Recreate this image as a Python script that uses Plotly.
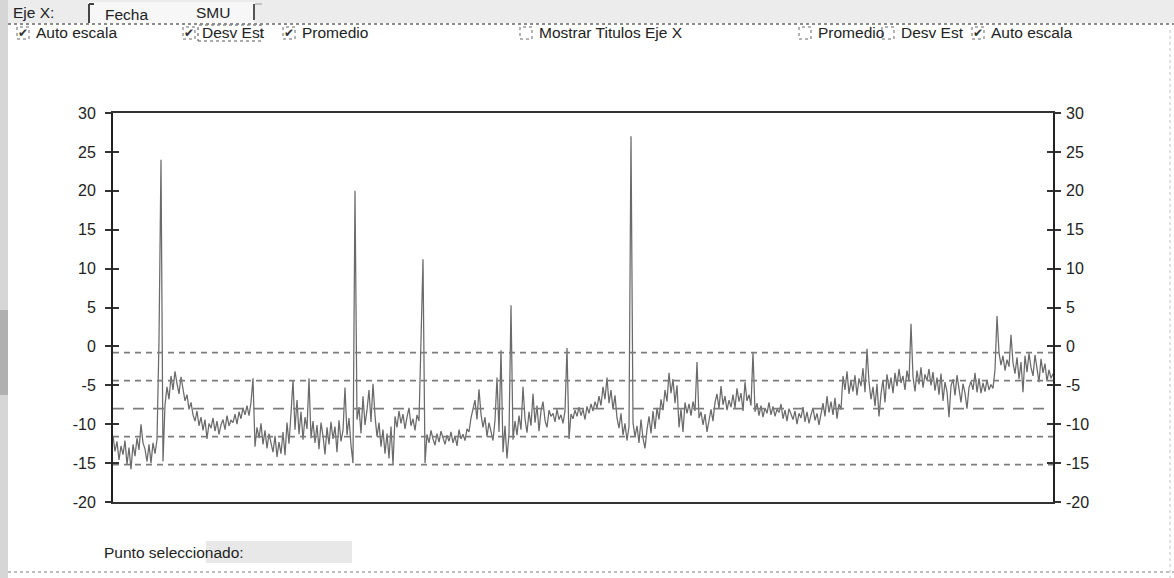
import plotly.graph_objects as go

# SMU readings, one sample per step along the x axis
smu = [
    -11.5, -13.5, -12.2, -14.6, -12.8, -13.9, -12.1, -15.2, -13.0, -15.8,
    -12.6, -14.1, -11.8, -13.3, -10.0, -12.4, -13.2, -14.8, -12.6, -15.0,
    -12.4, -13.8, -12.0, 0.8, 24.0, -14.8, -7.5, -5.2, -6.8, -3.8,
    -5.6, -3.2, -4.8, -6.1, -3.9, -5.4, -7.0, -6.2, -8.1, -7.2,
    -8.8, -9.6, -8.3, -10.2, -9.1, -10.8, -9.4, -11.9, -9.9, -10.5,
    -9.2, -10.9, -9.6, -11.3, -10.1, -9.4, -10.7, -8.9, -10.2, -9.5,
    -9.8, -8.7, -10.0, -8.4, -9.3, -7.9, -8.8, -7.6, -8.9, -7.2,
    -4.1, -12.9, -10.4, -11.8, -9.9, -12.6, -10.8, -13.1, -11.2, -12.4,
    -13.6, -11.5, -14.2, -12.3, -13.8, -11.0, -14.0, -9.8, -12.5, -8.6,
    -4.4, -10.7, -6.9, -11.3, -8.4, -12.0, -9.1, -10.6, -4.1, -11.8,
    -9.6, -12.4, -10.1, -13.2, -9.8, -11.5, -13.9, -10.4, -12.6, -9.7,
    -11.9, -10.3, -13.6, -9.5, -12.2, -10.8, -5.3, -11.4, -9.2, -12.7,
    -15.0, 20.0, -9.4, -7.8, -11.2, -6.4, -10.1, -8.2, -5.6, -9.7,
    -4.8, -8.9, -11.6, -9.8, -12.9, -10.7, -13.8, -11.2, -14.4, -10.3,
    -15.2, -9.0, -10.4, -8.3, -9.9, -8.7, -10.6, -9.1, -7.9, -10.2,
    -9.3, -10.8, -8.8, -9.6, 2.2, 11.2, -15.0, -11.3, -12.4, -10.8,
    -11.9, -12.7, -11.2, -12.3, -10.9, -11.8, -12.6, -11.4, -12.2, -11.0,
    -12.4, -11.5, -12.8, -10.7, -11.9, -11.3, -12.1, -10.6, -11.0, -9.2,
    -8.1, -6.9, -9.4, -5.5, -8.7, -10.4, -9.1, -11.6, -9.8, -10.9,
    -12.1, -9.5, -4.0, -11.0, -0.5, -13.6, -10.2, -14.4, -11.2, 5.3,
    -12.0, -9.6, -11.4, -8.9, -10.7, -5.2, -9.3, -11.1, -8.4, -10.2,
    -6.1, -9.8, -7.6, -10.9, -8.3, -7.1, -9.5, -10.4, -8.2, -9.0,
    -8.6, -9.7, -8.1, -9.4, -8.8, -9.9, -8.3, -0.2, -11.9, -8.7,
    -9.3, -8.2, -9.0, -7.8, -8.9, -8.1, -9.4, -7.7, -8.6, -7.4,
    -8.3, -7.1, -7.9, -6.4, -7.6, -5.2, -6.8, -4.0, -7.3, -5.6,
    -8.1, -6.3, -9.2, -10.5, -8.6, -11.4, -9.9, -12.1, -10.3, 27.0,
    -9.8, -11.6, -10.2, -12.4, -9.4, -11.8, -13.1, -10.7, -9.0, -11.2,
    -8.3, -10.6, -7.9, -9.4, -6.8, -8.2, -5.6, -7.1, -3.4, -6.0,
    -4.2, -7.3, -5.0, -10.4, -8.1, -11.0, -7.2, -8.6, -7.4, -8.9,
    -7.1, -8.3, -2.0, -9.2, -8.4, -10.1, -8.7, -11.0, -9.3, -8.1,
    -9.6, -7.2, -6.1, -8.0, -5.1, -7.5, -6.4, -8.2, -6.9, -7.8,
    -6.2, -7.9, -5.4, -7.1, -6.0, -8.3, -4.6, -7.0, -6.2, -7.6,
    -0.8, -8.4, -7.3, -8.9, -7.6, -9.1, -7.9, -8.6, -7.2, -8.8,
    -7.7, -9.0, -8.1, -8.5, -7.4, -9.3, -8.2, -9.6, -8.0, -8.7,
    -9.4, -8.3, -10.0, -8.6, -9.2, -7.8, -9.7, -8.4, -9.9, -8.8,
    -7.9, -9.5, -8.6, -10.1, -8.4, -7.3, -9.0, -6.4, -8.5, -7.1,
    -8.8, -6.6, -9.3, -7.4, -8.1, -3.8, -5.6, -3.2, -6.1, -4.4,
    -5.8, -3.7, -6.3, -4.1, -5.1, -2.8, -5.9, -0.3, -4.6, -6.8,
    -5.2, -7.7, -4.8, -9.0, -6.1, -4.3, -7.2, -3.6, -5.5, -4.0,
    -6.0, -3.4, -5.1, -2.9, -4.7, -3.8, -5.6, -3.1, -4.5, 2.9,
    -3.9, -5.8, -3.1, -4.9, -2.7, -5.3, -3.6, -4.4, -2.9, -5.0,
    -3.3, -5.7, -4.0, -6.2, -3.5, -7.0, -4.6, -5.8, -9.1, -5.1,
    -4.2, -6.3, -3.7, -5.5, -7.2, -4.8, -6.0, -8.0, -5.3, -4.5,
    -5.6, -3.4, -5.9, -4.1, -6.0, -4.7, -5.8, -4.3, -5.6, -4.9,
    -5.4, -3.0, 3.9, -0.8, -2.4, -1.2, -3.1, -1.7, -2.6, 1.5,
    -2.1, -3.5, -1.4, -4.2, -2.0, -5.9, -1.2, -3.3, -0.9, -2.7,
    -3.8, -1.1, -2.9, -4.6, -1.6, -3.4, -2.2, -4.5, -3.0, -4.1,
    -3.5,
]

# Statistics shown as reference lines (Promedio and Desv Est)
promedio = -8.0
desv_est = 3.6
sigma_multiples = [-2, -1, 1, 2]

y_ticks = [30, 25, 20, 15, 10, 5, 0, -5, -10, -15, -20]

W, H = 1174, 578
L, R, T, B = 113, 121, 113, 76
PW, PH = W - L - R, H - T - B


def px(x):
    return (x - L) / PW


def py(y):
    return (H - B - y) / PH


x_idx = list(range(len(smu)))
x_ends = [x_idx[0], x_idx[-1]]

fig = go.Figure()

for k in sigma_multiples:
    lvl = promedio + k * desv_est
    fig.add_trace(go.Scatter(
        x=x_ends, y=[lvl, lvl], mode="lines", yaxis="y2",
        line=dict(color="#7c7c7c", width=1.6, dash="6px,5px"),
        hoverinfo="skip", showlegend=False))

fig.add_trace(go.Scatter(
    x=x_ends, y=[promedio, promedio], mode="lines", yaxis="y2",
    line=dict(color="#7c7c7c", width=1.6, dash="11px,9px"),
    hoverinfo="skip", showlegend=False))

fig.add_trace(go.Scatter(
    x=x_idx, y=smu, mode="lines",
    line=dict(color="#6a6a6a", width=1.25),
    showlegend=False, name="SMU"))

tick_font = dict(family="Liberation Sans, Arial, sans-serif", size=16, color="#222")
axis_common = dict(
    range=[-20, 30], tickvals=y_ticks, ticktext=[str(v) for v in y_ticks],
    showgrid=False, zeroline=False, tickfont=tick_font,
    ticklen=6, tickwidth=2, tickcolor="#333", mirror="allticks",
)

fig.update_layout(
    width=W, height=H,
    margin=dict(l=L, r=R, t=T, b=B),
    paper_bgcolor="white", plot_bgcolor="white",
    xaxis=dict(range=[x_idx[0], x_idx[-1]], showticklabels=False, ticks="",
               showgrid=False, zeroline=False, showline=True, mirror=True,
               linecolor="#333", linewidth=2),
    yaxis=dict(**axis_common, ticks="outside", showline=True, linecolor="#222",
               linewidth=2, ticklabelstandoff=6),
    yaxis2=dict(**axis_common, ticks="inside", overlaying="y", side="right",
                showline=False, ticklabelstandoff=12),
)

ui_font = dict(family="Liberation Sans, Arial, sans-serif", size=15.5, color="#222")
shapes = []
annotations = []


def rect(x0, y0, x1, y1, fill, line_color=None, dash=None, width=1):
    shapes.append(dict(
        type="rect", xref="paper", yref="paper",
        x0=px(x0), x1=px(x1), y0=py(y1), y1=py(y0),
        fillcolor=fill, layer="below",
        line=dict(color=line_color or "rgba(0,0,0,0)", width=width,
                  dash=dash or "solid")))


def seg(x0, y0, x1, y1, color, width=1, dash="solid"):
    shapes.append(dict(
        type="line", xref="paper", yref="paper",
        x0=px(x0), x1=px(x1), y0=py(y0), y1=py(y1),
        line=dict(color=color, width=width, dash=dash)))


def label(x, y, text, font=None):
    annotations.append(dict(
        x=px(x), y=py(y), xref="paper", yref="paper", text=text,
        showarrow=False, xanchor="left", yanchor="middle",
        font=font or ui_font, borderpad=0))


def checkbox(x, y, text, checked):
    rect(x, y - 6, x + 12, y + 6, "white", "#9a9a9a", "dot", 1.5)
    if checked:
        annotations.append(dict(
            x=px(x + 6), y=py(y), xref="paper", yref="paper", text="✔",
            showarrow=False, xanchor="center", yanchor="middle",
            font=dict(family="DejaVu Sans", size=12, color="#333")))
    label(x + 18, y, text)


# Window chrome: tab strip, left border, bottom strip
rect(8, 0, W, 23, "#ececec")
rect(88, 2, 255, 23, "#f7f7f7")
seg(8, 24, W, 24, "#8c8c8c", 2, "dot")
rect(0, 0, 8, H, "#d6d6d6")
rect(0, 310, 8, 395, "#b0b0b0")
seg(1170, 30, 1170, H, "#c4c4c4", 1, "dot")
seg(8, 572, W, 572, "#bdbdbd", 2, "dot")
seg(89, 4, 89, 23, "#444", 2)
seg(89, 4, 94, 4, "#444", 2)
seg(254, 4, 254, 20, "#555", 2)
seg(255, 4, 262, 4, "#999", 1)

label(12, 13, "Eje X:")
label(104, 15, "Fecha")
label(195, 13, "SMU")

# Option checkboxes
checkbox(17, 33, "Auto escala", True)
checkbox(183, 33, "Desv Est", True)
rect(198, 25, 261, 41, "rgba(0,0,0,0)", "#555", "dot", 1)
checkbox(283, 33, "Promedio", True)
checkbox(520, 33, "Mostrar Titulos Eje X", False)
checkbox(799, 33, "Promedio", False)
checkbox(882, 33, "Desv Est", False)
checkbox(972, 33, "Auto escala", True)

# Selected point readout
label(103, 552, "Punto seleccionado:")
rect(206, 541, 352, 563, "#e8e8e8")

fig.update_layout(shapes=shapes, annotations=annotations)

fig.write_html("out.html")
